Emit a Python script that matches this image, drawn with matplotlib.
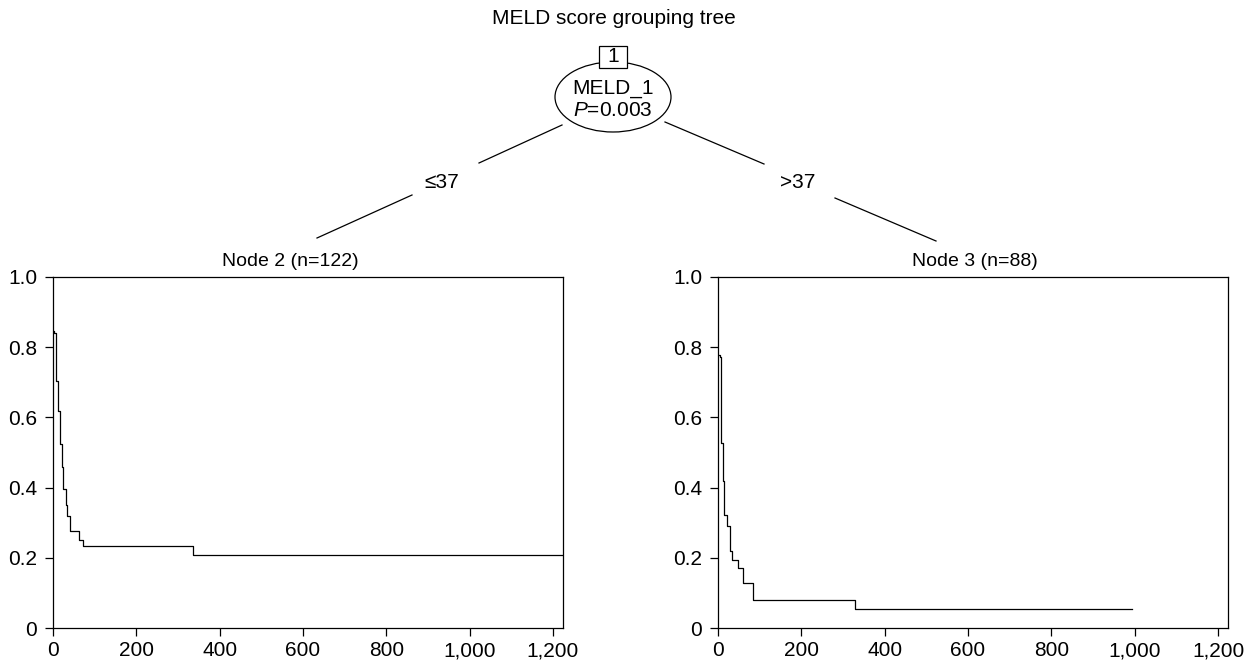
import matplotlib.pyplot as plt
from matplotlib.patches import Ellipse, Rectangle

plt.rcParams['font.family'] = ['Liberation Sans', 'DejaVu Sans']
plt.rcParams['mathtext.fontset'] = 'custom'
plt.rcParams['mathtext.rm'] = 'Liberation Sans'
plt.rcParams['mathtext.it'] = 'Liberation Sans:italic'

# Kaplan-Meier steps
times_node2 = [0, 3, 7, 12, 16, 21, 25, 30, 34, 41, 63, 73, 336, 1224]
surv_node2 = [0.847, 0.840, 0.703, 0.618, 0.524, 0.460, 0.396, 0.351, 0.318, 0.276, 0.252, 0.233, 0.207, 0.207]

times_node3 = [0, 5, 8, 11, 14, 21, 29, 34, 49, 61, 85, 329, 993]
surv_node3 = [0.778, 0.771, 0.528, 0.419, 0.323, 0.290, 0.219, 0.195, 0.172, 0.129, 0.080, 0.054, 0.054]

x_ticks = [0, 200, 400, 600, 800, 1000, 1200]
x_labels = ["0", "200", "400", "600", "800", "1,000", "1,200"]
y_ticks = [0, 0.2, 0.4, 0.6, 0.8, 1.0]
y_labels = ["0", "0.2", "0.4", "0.6", "0.8", "1.0"]

title = "MELD score grouping tree"
split_var = "MELD_1"
p_text = "$P$=0.003"
left_label = "≤37"
right_label = ">37"
node_titles = ["Node 2 (n=122)", "Node 3 (n=88)"]

W, H = 1255, 664
fig = plt.figure(figsize=(W / 100, H / 100), dpi=100)

# overlay in pixel coordinates for the tree part
over = fig.add_axes([0, 0, 1, 1])
over.set_xlim(0, W)
over.set_ylim(H, 0)
over.axis('off')

fs = 15
over.text(614, 18, title, ha='center', va='center', fontsize=fs)
over.add_patch(Ellipse((613, 97), 116, 70, fill=False, lw=0.9, color='black'))
over.add_patch(Rectangle((599, 46), 28, 22, facecolor='white', edgecolor='black', lw=0.9, zorder=3))
over.text(613, 57, "1", ha='center', va='center', fontsize=fs, zorder=4)
over.text(613, 88, split_var, ha='center', va='center', fontsize=fs)
over.text(613, 111, p_text, ha='center', va='center', fontsize=fs)

line_kw = dict(color='black', lw=0.9)
over.plot([562, 479], [125, 163], **line_kw)
over.plot([412, 317], [195, 238], **line_kw)
over.plot([665, 764], [122, 164], **line_kw)
over.plot([835, 936], [198, 241], **line_kw)
over.text(442, 182, left_label, ha='center', va='center', fontsize=fs)
over.text(798, 182, right_label, ha='center', va='center', fontsize=fs)
over.text(290, 262, node_titles[0], ha='center', va='center', fontsize=14)
over.text(975, 262, node_titles[1], ha='center', va='center', fontsize=14)

panels = [(53, 563, times_node2, surv_node2), (718, 1228, times_node3, surv_node3)]
for x0, x1, t, s in panels:
    ax = fig.add_axes([x0 / W, (H - 628) / H, (x1 - x0) / W, (628 - 277) / H])
    ax.step(t, s, where='post', color='black', lw=0.9)
    ax.set_xlim(0, 1224)
    ax.set_ylim(0, 1)
    ax.set_xticks(x_ticks)
    ax.set_xticklabels(x_labels)
    ax.set_yticks(y_ticks)
    ax.set_yticklabels(y_labels)
    ax.tick_params(direction='out', length=5.5, width=0.9, labelsize=fs)
    ax.tick_params(axis='y', pad=6)
    ax.tick_params(axis='x', pad=4)
    for sp in ax.spines.values():
        sp.set_linewidth(0.9)

fig.savefig("out.png", dpi=100)
